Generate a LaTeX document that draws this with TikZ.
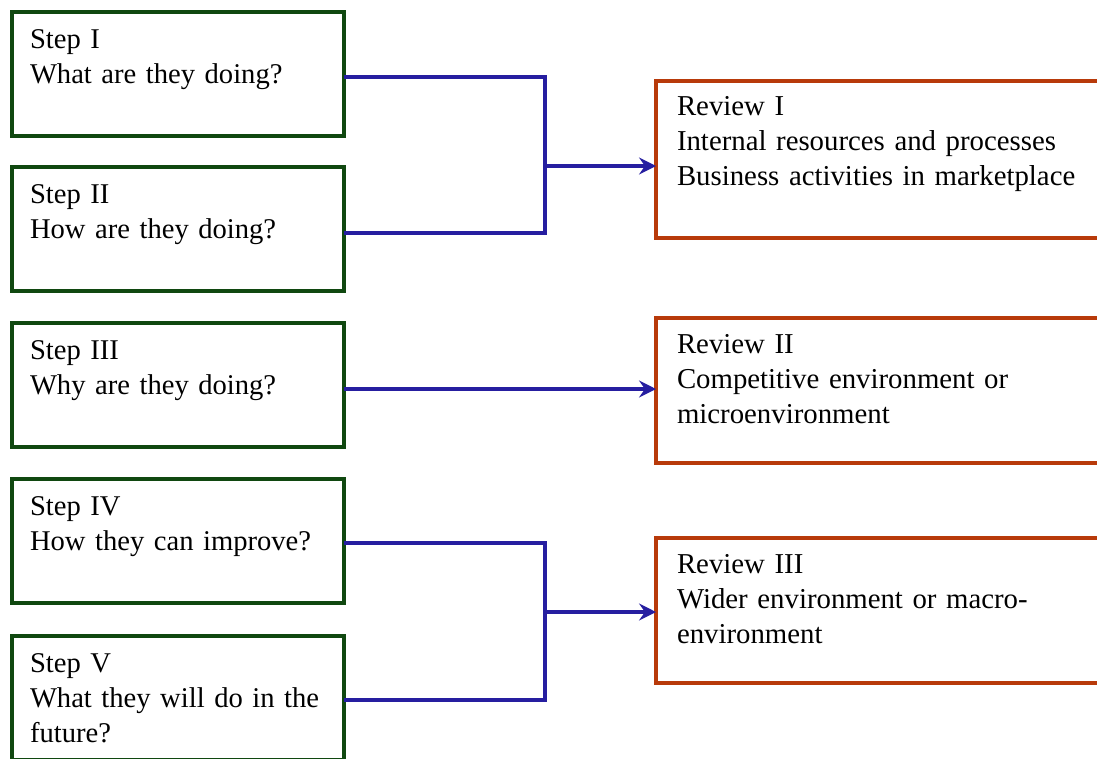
\documentclass[tikz,border=0pt]{standalone}
\usepackage{fontspec}
\setmainfont{Liberation Serif}
\usepackage{tikz}
\usetikzlibrary{arrows.meta}

\definecolor{stepgreen}{RGB}{16,72,16}
\definecolor{reviewred}{RGB}{184,58,10}
\definecolor{linkblue}{RGB}{38,30,160}

\begin{document}
\begin{tikzpicture}[x=1pt, y=-1pt]

      \tikzset{stepbox/.style = {draw=stepgreen, line width=4.5pt, outer sep=0pt, anchor=north west,
          inner xsep=18pt, inner ysep=0pt, text width=296pt, text height=36pt, text depth=88pt,
          align=left, font=\fontsize{28.6}{35}\selectfont}}
      \tikzset{reviewbox/.style = {draw=reviewred, line width=4.5pt, outer sep=0pt, anchor=north west,
          inner xsep=21pt, inner ysep=0pt, text width=408pt, text height=35pt, text depth=110pt,
          align=left, font=\fontsize{28.8}{35}\selectfont}}
      \tikzset{link/.style = {draw=linkblue, line width=4pt}}
      \tikzset{arrow/.style = {link, -{Stealth[length=17pt, width=17pt, inset=6pt]}}}

      \useasboundingbox (0,0) rectangle (1097,758);

      % steps
      \node[stepbox] (s1) at (12,12)  {Step I\\What are they doing?};
      \node[stepbox] (s2) at (12,167) {Step II\\How are they doing?};
      \node[stepbox] (s3) at (12,323) {Step III\\Why are they doing?};
      \node[stepbox] (s4) at (12,479) {Step IV\\How they can improve?};
      \node[stepbox] (s5) at (12,636) {Step V\\What they will do in the\\future?};

      % reviews
      \node[reviewbox, text height=34pt, text depth=123pt] (r1) at (656,81)
          {Review I\\Internal resources and processes\\Business activities in marketplace};
      \node[reviewbox] (r2) at (656,318) {Review II\\Competitive environment or\\microenvironment};
      \node[reviewbox] (r3) at (656,538) {Review III\\Wider environment or macro-\\environment};

      % joints
      \coordinate (j1) at (545,166);
      \coordinate (j2) at (545,612);
      \coordinate (a1) at ([yshift=-3pt]s1.east);
      \coordinate (a2) at ([yshift=-4pt]s2.east);
      \coordinate (a3) at ([yshift=-4pt]s3.east);
      \coordinate (a4) at ([yshift=-2pt]s4.east);
      \coordinate (a5) at ([yshift=-2pt]s5.east);

      % links
      \draw[link] (a1) -| (j1);
      \draw[link] (a2) -| (j1);
      \draw[arrow] (j1) -- (j1 -| r1.west);
      \draw[arrow] (a3) -- (a3 -| r2.west);
      \draw[link] (a4) -| (j2);
      \draw[link] (a5) -| (j2);
      \draw[arrow] (j2) -- (j2 -| r3.west);

\end{tikzpicture}
\end{document}
